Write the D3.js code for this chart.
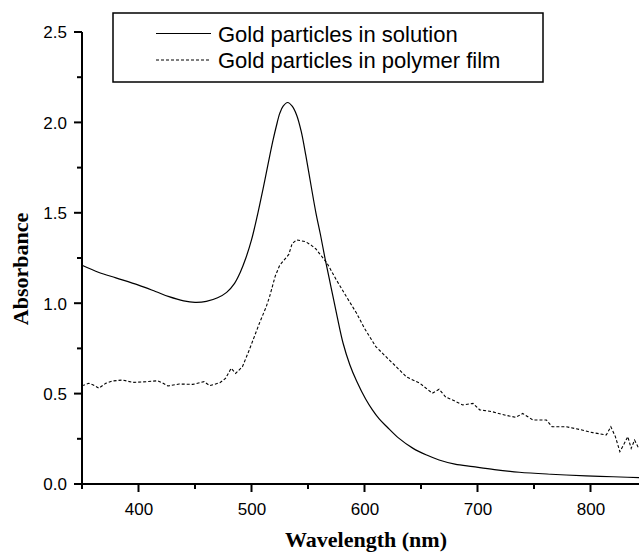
<!DOCTYPE html>
<html>
<head>
<meta charset="utf-8">
<script src="https://cdn.jsdelivr.net/npm/d3@7"></script>
<style>
  body { margin: 0; background: #fff; }
  svg { display: block; }
  .tick text { font-family: "Liberation Sans", Arial, sans-serif; font-size: 17px; fill: #000; }
  .axis-title { font-family: "Liberation Serif", "Times New Roman", serif; font-weight: bold; font-size: 22px; fill: #000; }
  .legend-text { font-family: "Liberation Sans", Arial, sans-serif; font-size: 22px; fill: #000; }
</style>
</head>
<body>
<svg id="chart"></svg>
<script>
// series: gold particles in solution (solid)
const solWave = [350, 365, 380, 400, 415, 427, 440, 450, 460, 470, 478, 485, 490, 495, 500, 505, 510, 515, 519, 522, 525, 528, 532, 536, 540, 544, 548, 553, 557, 561, 565, 569, 572, 576, 581, 587, 593, 601, 607, 613, 620, 630, 643, 655, 666, 680, 696, 715, 737, 765, 796, 820, 850];
const solAbs = [1.21, 1.17, 1.14, 1.10, 1.065, 1.036, 1.013, 1.005, 1.01, 1.03, 1.06, 1.11, 1.17, 1.25, 1.35, 1.48, 1.626, 1.78, 1.90, 1.98, 2.05, 2.09, 2.11, 2.09, 2.04, 1.95, 1.82, 1.64, 1.50, 1.38, 1.25, 1.13, 1.04, 0.92, 0.78, 0.66, 0.57, 0.47, 0.41, 0.36, 0.315, 0.255, 0.197, 0.16, 0.133, 0.11, 0.096, 0.08, 0.065, 0.054, 0.045, 0.04, 0.034];

// series: gold particles in polymer film (dashed)
const filmWave = [350, 352, 356, 360, 365, 371, 377, 386, 395, 407, 417, 421, 426, 436, 448, 458, 463, 472, 477, 482, 486, 492, 498, 507, 513, 516, 521, 525, 529, 533, 536, 540, 544, 548, 553, 557, 560, 567, 575, 584, 593, 600, 610, 619, 628, 637, 649, 660, 666, 672, 678, 687, 696, 702, 713, 725, 734, 740, 749, 761, 766, 778, 790, 802, 814, 818, 822, 826, 830, 833, 836, 839, 842, 846, 850];
const filmAbs = [0.545, 0.548, 0.557, 0.548, 0.53, 0.557, 0.57, 0.575, 0.562, 0.566, 0.571, 0.56, 0.542, 0.553, 0.551, 0.566, 0.544, 0.56, 0.584, 0.64, 0.612, 0.649, 0.741, 0.889, 0.98, 1.036, 1.15, 1.21, 1.24, 1.27, 1.33, 1.35, 1.345, 1.34, 1.32, 1.30, 1.276, 1.22, 1.13, 1.036, 0.944, 0.861, 0.76, 0.704, 0.649, 0.593, 0.557, 0.502, 0.524, 0.48, 0.465, 0.437, 0.446, 0.41, 0.40, 0.38, 0.369, 0.39, 0.354, 0.354, 0.317, 0.317, 0.302, 0.284, 0.271, 0.317, 0.262, 0.179, 0.225, 0.262, 0.197, 0.243, 0.206, 0.22, 0.21];

const xTicks = [400, 500, 600, 700, 800];
const xMinor = [350, 450, 550, 650, 750, 850];
const yTicks = [0.0, 0.5, 1.0, 1.5, 2.0, 2.5];
const yMinor = [0.25, 0.75, 1.25, 1.75, 2.25];
const legendLabels = ["Gold particles in solution", "Gold particles in polymer film"];

const width = 639;
const height = 552;

const svg = d3.select('#chart')
  .attr('width', width)
  .attr('height', height);

// scales (plot runs past the right edge, picture is cropped there)
const xScale = d3.scaleLinear().domain([350, 850]).range([82, 647]);
const yScale = d3.scaleLinear().domain([0, 2.5]).range([484, 32]);

const ink = '#000';

// lines
const solData = solWave.map((w, i) => [w, solAbs[i]]);
const filmData = filmWave.map((w, i) => [w, filmAbs[i]]);

svg.append('path')
  .datum(solData)
  .attr('fill', 'none')
  .attr('stroke', ink)
  .attr('stroke-width', 1.2)
  .attr('d', d3.line().x(d => xScale(d[0])).y(d => yScale(d[1])).curve(d3.curveCatmullRom.alpha(0.5)));

svg.append('path')
  .datum(filmData)
  .attr('fill', 'none')
  .attr('stroke', ink)
  .attr('stroke-width', 1.1)
  .attr('stroke-dasharray', '3,2')
  .attr('d', d3.line().x(d => xScale(d[0])).y(d => yScale(d[1])));

// axes: d3 gives the labels, tick marks drawn on their own
const gx = svg.append('g')
  .attr('transform', `translate(0, ${yScale(0)})`)
  .call(d3.axisBottom(xScale).tickValues(xTicks).tickFormat(d3.format('d')).tickSize(0));
gx.selectAll('.tick text').attr('dy', null).attr('y', 31);
gx.select('.domain').remove();

const gy = svg.append('g')
  .attr('transform', `translate(${xScale(350)}, 0)`)
  .call(d3.axisLeft(yScale).tickValues(yTicks).tickFormat(d3.format('.1f')).tickSize(0));
gy.selectAll('.tick text').attr('x', -15).attr('dy', '0.35em');
gy.select('.domain').remove();

const marks = svg.append('g')
  .attr('stroke', ink)
  .attr('stroke-width', 2);

marks.append('line')
  .attr('x1', xScale.range()[0]).attr('x2', xScale.range()[1])
  .attr('y1', yScale(0)).attr('y2', yScale(0));
marks.append('line')
  .attr('x1', xScale(350)).attr('x2', xScale(350))
  .attr('y1', yScale(0) + 1).attr('y2', yScale(2.5));

marks.selectAll('.xt')
  .data(xTicks.map(v => [v, 8]).concat(xMinor.map(v => [v, 5])))
  .enter().append('line')
  .attr('class', 'xt')
  .attr('x1', d => xScale(d[0])).attr('x2', d => xScale(d[0]))
  .attr('y1', yScale(0)).attr('y2', d => yScale(0) + d[1]);

marks.selectAll('.yt')
  .data(yTicks.map(v => [v, 8]).concat(yMinor.map(v => [v, 5])))
  .enter().append('line')
  .attr('class', 'yt')
  .attr('y1', d => yScale(d[0])).attr('y2', d => yScale(d[0]))
  .attr('x1', xScale(350)).attr('x2', d => xScale(350) - d[1]);

// axis titles
svg.append('text')
  .attr('class', 'axis-title')
  .attr('text-anchor', 'middle')
  .attr('x', 366)
  .attr('y', 547)
  .text('Wavelength (nm)');

svg.append('text')
  .attr('class', 'axis-title')
  .attr('text-anchor', 'middle')
  .attr('transform', 'translate(28, 269) rotate(-90)')
  .text('Absorbance');

// legend
const legend = svg.append('g');
legend.append('rect')
  .attr('x', 113).attr('y', 13)
  .attr('width', 430).attr('height', 69)
  .attr('fill', '#fff')
  .attr('stroke', ink)
  .attr('stroke-width', 1.5);

const rows = legend.selectAll('.row')
  .data(legendLabels)
  .enter()
  .append('g')
  .attr('transform', (d, i) => `translate(0, ${33.5 + i * 26.5})`);

rows.append('line')
  .attr('x1', 156).attr('x2', 211)
  .attr('stroke', ink)
  .attr('stroke-width', 1.1)
  .attr('stroke-dasharray', (d, i) => i === 0 ? null : '3,2');

rows.append('text')
  .attr('class', 'legend-text')
  .attr('x', 218)
  .attr('y', 8)
  .text(d => d);
</script>
</body>
</html>
